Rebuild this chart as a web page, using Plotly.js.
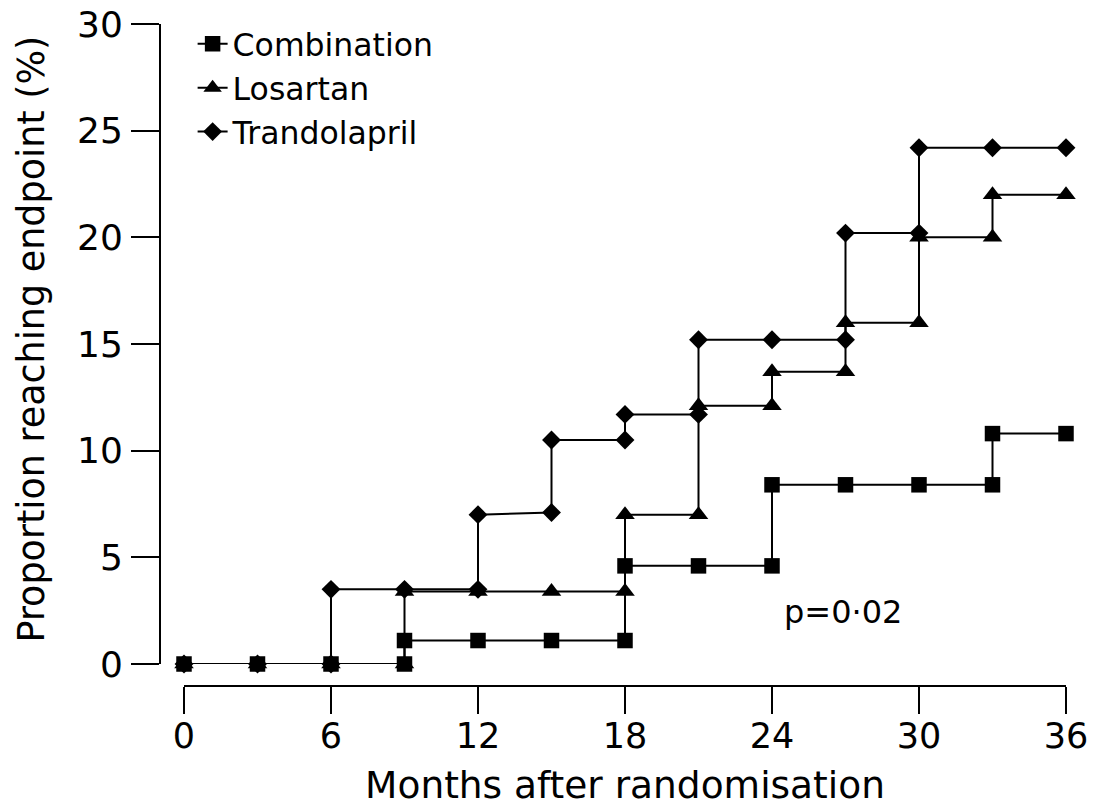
<!DOCTYPE html>
<html>
<head>
<meta charset="utf-8">
<script src="https://cdn.plot.ly/plotly-3.0.1.min.js"></script>
<style>
  html, body { margin: 0; padding: 0; background: #fff; }
  #chart { width: 1093px; height: 809px; }
</style>
</head>
<body>
<div id="chart"></div>
<script>
// Cumulative proportion reaching the endpoint, read at 3-monthly visits.
// A step is stored as two points at the same month (old level, new level).
const monthsCombination = [0, 3, 6, 9, 9, 12, 15, 18, 18, 21, 24, 24, 27, 30, 33, 33, 36];
const pctCombination    = [0, 0, 0, 0, 1.1, 1.1, 1.1, 1.1, 4.6, 4.6, 4.6, 8.4, 8.4, 8.4, 8.4, 10.8, 10.8];

const monthsLosartan = [0, 3, 6, 9, 9, 12, 15, 18, 18, 21, 21, 24, 24, 27, 27, 30, 30, 33, 33, 36];
const pctLosartan    = [0, 0, 0, 0, 3.4, 3.4, 3.4, 3.4, 7.0, 7.0, 12.1, 12.1, 13.7, 13.7, 16.0, 16.0, 20.0, 20.0, 22.0, 22.0];

const monthsTrandolapril = [0, 3, 6, 6, 9, 12, 12, 15, 15, 18, 18, 21, 21, 24, 27, 27, 30, 30, 33, 36];
const pctTrandolapril    = [0, 0, 0, 3.5, 3.5, 3.5, 7.0, 7.1, 10.5, 10.5, 11.7, 11.7, 15.2, 15.2, 15.2, 20.2, 20.2, 24.2, 24.2, 24.2];

const xTicks = [0, 6, 12, 18, 24, 30, 36];
const yTicks = [0, 5, 10, 15, 20, 25, 30];

const seriesNames = ['Combination', 'Losartan', 'Trandolapril'];
const xTitle = 'Months after randomisation';
const yTitle = 'Proportion reaching endpoint (%)';
const pValueText = 'p=0·02';

const FONT = 'DejaVu Sans, Verdana, sans-serif';
const INK = '#000000';

function stepTrace(name, x, y, symbol, size) {
  return {
    type: 'scatter',
    mode: 'lines+markers',
    name: name,
    x: x,
    y: y,
    cliponaxis: false,
    line: { color: INK, width: 2 },
    marker: { symbol: symbol, size: size, color: INK, line: { width: 0 } }
  };
}

const traces = [
  stepTrace(seriesNames[0], monthsCombination, pctCombination, 'square', 15.5),
  stepTrace(seriesNames[1], monthsLosartan, pctLosartan, 'triangle-up', 17),
  stepTrace(seriesNames[2], monthsTrandolapril, pctTrandolapril, 'diamond', 14.5)
];

const layout = {
  width: 1093,
  height: 809,
  paper_bgcolor: '#ffffff',
  plot_bgcolor: '#ffffff',
  margin: { l: 160, r: 27, t: 24, b: 123 },
  font: { family: FONT, color: INK, size: 34 },
  showlegend: true,
  legend: {
    x: 0.036, y: 1.011, xanchor: 'left', yanchor: 'top',
    bgcolor: 'rgba(0,0,0,0)',
    font: { family: FONT, size: 31.5, color: INK },
    tracegroupgap: 0
  },
  xaxis: {
    domain: [24 / 906, 1],
    anchor: 'free',
    position: 0,
    range: [0, 36],
    tickvals: xTicks,
    ticktext: xTicks.map(String),
    showgrid: false,
    zeroline: false,
    showline: true,
    linecolor: INK,
    linewidth: 2,
    ticks: 'outside',
    ticklen: 27,
    tickwidth: 2,
    tickcolor: INK,
    ticklabelstandoff: -8,
    tickfont: { family: FONT, size: 35, color: INK },
    title: { text: xTitle, font: { family: FONT, size: 37.5, color: INK }, standoff: 16 }
  },
  yaxis: {
    domain: [22 / 662, 1],
    anchor: 'free',
    position: 0,
    range: [0, 30],
    tickvals: yTicks,
    ticktext: yTicks.map(String),
    showgrid: false,
    zeroline: false,
    showline: true,
    linecolor: INK,
    linewidth: 2,
    ticks: 'outside',
    ticklen: 28,
    tickwidth: 2,
    tickcolor: INK,
    ticklabelstandoff: 1,
    tickfont: { family: FONT, size: 36, color: INK }
  },
  annotations: [
    {
      // vertical axis title, set out to the left of the tick labels
      xref: 'paper', yref: 'paper',
      x: -0.142, y: 0.524,
      text: yTitle,
      textangle: -90,
      showarrow: false,
      xanchor: 'center', yanchor: 'middle',
      font: { family: FONT, size: 36.5, color: INK }
    },
    {
      xref: 'x', yref: 'y',
      x: 26.9, y: 2.45,
      text: pValueText,
      showarrow: false,
      xanchor: 'center', yanchor: 'middle',
      font: { family: FONT, size: 32, color: INK }
    }
  ]
};

Plotly.newPlot('chart', traces, layout, { staticPlot: true, displayModeBar: false });
</script>
</body>
</html>
